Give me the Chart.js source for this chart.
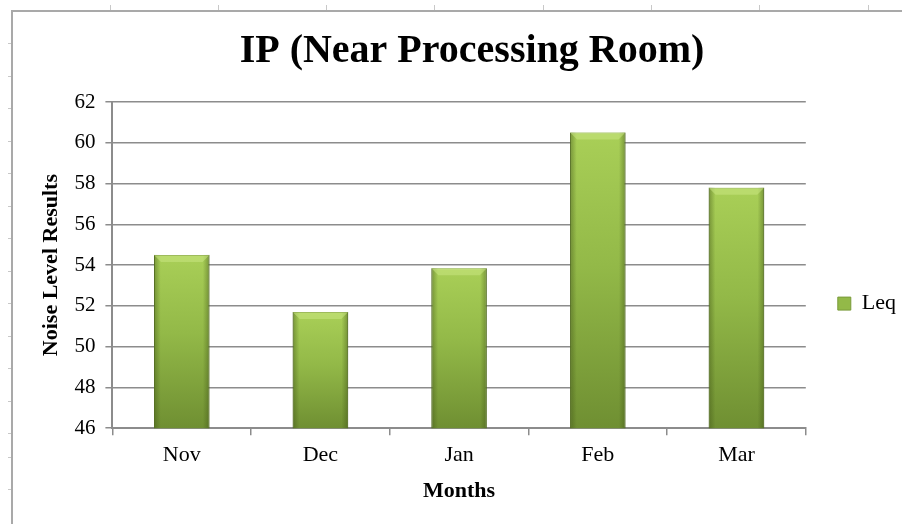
<!DOCTYPE html>
<html>
<head>
<meta charset="utf-8">
<script src="https://cdn.jsdelivr.net/npm/chart.js@4"></script>
<style>
  body { margin: 0; background: #fff; }
  #wrap { position: relative; width: 902px; height: 524px; overflow: hidden; }
  #frame { position: absolute; left: 11px; top: 10px; right: -4px; bottom: -4px;
           border-left: 2px solid #a9a9a9; border-top: 2px solid #a9a9a9; }
  .tk { position: absolute; background: #c8c8c8; }
  canvas { position: absolute; left: 0; top: 0; }
</style>
</head>
<body>
<div id="wrap">
  <div id="frame"></div>
  <canvas id="myChart" width="902" height="524"></canvas>
</div>
<script>
const months = ['Nov', 'Dec', 'Jan', 'Feb', 'Mar'];
const leq = [54.5, 51.7, 53.85, 60.5, 57.8];
const yTicks = [46, 48, 50, 52, 54, 56, 58, 60, 62];

// little sheet-cell marks around the chart frame
const wrap = document.getElementById('wrap');
[110, 218, 326, 434, 543, 651, 759, 868].forEach(x => {
  const d = document.createElement('div');
  d.className = 'tk';
  d.style.cssText = 'left:' + x + 'px;top:5px;width:1px;height:5px';
  wrap.appendChild(d);
});
[43, 76, 108, 141, 173, 206, 238, 271, 303, 336, 368, 401, 433, 457, 489].forEach(y => {
  const d = document.createElement('div');
  d.className = 'tk';
  d.style.cssText = 'left:8px;top:' + y + 'px;width:3px;height:1px';
  wrap.appendChild(d);
});

const serif = "'Liberation Serif', 'Times New Roman', serif";

function barFill(context) {
  const chart = context.chart;
  const area = chart.chartArea;
  if (!area) return '#8fb444';
  const top = chart.scales.y.getPixelForValue(leq[context.dataIndex]);
  const g = chart.ctx.createLinearGradient(0, top, 0, area.bottom);
  g.addColorStop(0, '#a9cf57');
  g.addColorStop(0.45, '#93b948');
  g.addColorStop(1, '#6f8f32');
  return g;
}

// darker side edges and a light bevel on top of each bar
const bevel = {
  id: 'bevel',
  afterDatasetsDraw(chart) {
    const ctx = chart.ctx;
    const bottom = chart.chartArea.bottom;
    chart.getDatasetMeta(0).data.forEach(bar => {
      const p = bar.getProps(['x', 'y', 'width'], true);
      const l = p.x - p.width / 2, r = p.x + p.width / 2;
      const h = bottom - p.y;
      ctx.save();
      const g = ctx.createLinearGradient(l, 0, r, 0);
      g.addColorStop(0, 'rgba(60,80,20,0.45)');
      g.addColorStop(0.12, 'rgba(60,80,20,0)');
      g.addColorStop(0.88, 'rgba(60,80,20,0)');
      g.addColorStop(1, 'rgba(60,80,20,0.45)');
      ctx.fillStyle = g;
      ctx.fillRect(l, p.y, p.width, h);
      const b = 7;
      ctx.beginPath();
      ctx.moveTo(l, p.y);
      ctx.lineTo(r, p.y);
      ctx.lineTo(r - b, p.y + b);
      ctx.lineTo(l + b, p.y + b);
      ctx.closePath();
      ctx.fillStyle = 'rgba(200,230,130,0.55)';
      ctx.fill();
      ctx.restore();
    });
  }
};

new Chart(document.getElementById('myChart'), {
  type: 'bar',
  data: {
    labels: months,
    datasets: [{
      label: 'Leq',
      data: leq,
      backgroundColor: barFill,
      borderColor: '#6a8830',
      borderWidth: 1,
      barPercentage: 0.4,
      categoryPercentage: 1
    }]
  },
  options: {
    responsive: false,
    animation: false,
    layout: { padding: { left: 38, top: 28, right: -4, bottom: 15 } },
    plugins: {
      title: {
        display: true,
        text: 'IP (Near Processing Room)',
        color: '#000',
        font: { family: serif, size: 40, weight: 'bold' },
        padding: { top: 0, bottom: 26 }
      },
      legend: {
        position: 'right',
        // empty legend title only pushes the key down to where it sits in the original
        title: { display: true, text: '', color: '#000', font: { size: 1 }, padding: { top: 0, bottom: 69 } },
        labels: {
          color: '#000',
          boxWidth: 13,
          boxHeight: 13,
          padding: 32,
          font: { family: serif, size: 22 },
          generateLabels: () => [{ text: 'Leq', fillStyle: '#93b948', strokeStyle: '#7a9a3a', lineWidth: 1, fontColor: '#000' }]
        }
      },
      tooltip: { enabled: false }
    },
    scales: {
      x: {
        offset: true,
        grid: { display: true, drawOnChartArea: false, drawTicks: true, tickLength: 7, color: '#8c8c8c', lineWidth: 1.5, offset: true },
        border: { color: '#8c8c8c', width: 2 },
        ticks: { color: '#000', font: { family: serif, size: 22 }, padding: 7 },
        title: { display: true, text: 'Months', color: '#000', font: { family: serif, size: 22, weight: 'bold' }, padding: { top: 3, bottom: 4 } }
      },
      y: {
        min: 46,
        max: 62,
        afterBuildTicks: axis => { axis.ticks = yTicks.map(v => ({ value: v })); },
        grid: { color: '#8c8c8c', lineWidth: 1.5, tickLength: 7 },
        border: { color: '#8c8c8c', width: 2 },
        ticks: { color: '#000', font: { family: serif, size: 21 }, padding: 10 },
        title: { display: true, text: 'Noise Level Results', color: '#000', font: { family: serif, size: 22, weight: 'bold' }, padding: { top: 0, bottom: 0 } }
      }
    }
  },
  plugins: [bevel]
});
</script>
</body>
</html>
